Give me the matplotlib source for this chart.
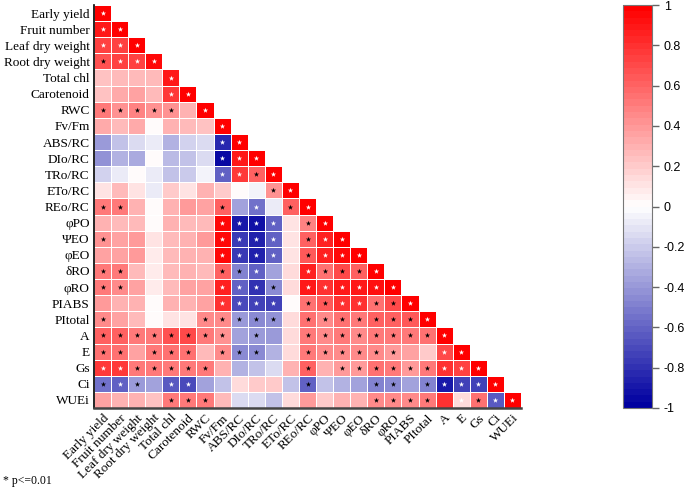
import numpy as np
import matplotlib.pyplot as plt
from matplotlib.colors import LinearSegmentedColormap

plt.rcParams['axes.unicode_minus'] = False

labels = ["Early yield", "Fruit number", "Leaf dry weight", "Root dry weight", "Total chl",
          "Carotenoid", "RWC", "Fv/Fm", "ABS/RC", "DIo/RC", "TRo/RC", "ETo/RC", "REo/RC",
          "φPO", "ΨEO", "φEO", "δRO", "φRO", "PIABS", "PItotal", "A", "E", "Gs", "Ci", "WUEi"]

# lower triangle of the correlation matrix, one list per row
rows = [
    [1.0],
    [0.88, 1.0],
    [0.72, 0.72, 1.0],
    [0.68, 0.72, 0.72, 0.95],
    [0.22, 0.25, 0.28, 0.25, 0.9],
    [0.22, 0.32, 0.35, 0.28, 0.78, 0.98],
    [0.5, 0.42, 0.48, 0.42, 0.42, 0.3, 0.98],
    [0.32, 0.28, 0.32, 0.0, 0.3, 0.28, 0.22, 0.98],
    [-0.4, -0.25, -0.15, -0.08, -0.3, -0.18, -0.15, -0.82, 0.98],
    [-0.42, -0.3, -0.32, 0.02, -0.28, -0.25, -0.15, -0.95, 0.88, 0.98],
    [-0.18, -0.08, 0.0, -0.08, -0.25, -0.2, -0.05, -0.62, 0.78, 0.62, 0.98],
    [0.12, 0.25, 0.12, -0.08, 0.2, 0.12, 0.3, 0.2, 0.03, -0.06, 0.42, 0.98],
    [0.5, 0.5, 0.3, 0.0, 0.3, 0.4, 0.35, 0.62, -0.35, -0.55, -0.08, 0.62, 0.98],
    [0.3, 0.25, 0.28, 0.0, 0.3, 0.28, 0.25, 0.95, -0.9, -0.92, -0.62, 0.1, 0.48, 0.98],
    [0.42, 0.35, 0.4, 0.12, 0.25, 0.3, 0.38, 0.95, -0.78, -0.85, -0.62, 0.1, 0.6, 0.85, 0.98],
    [0.35, 0.35, 0.38, 0.08, 0.25, 0.3, 0.3, 0.95, -0.78, -0.85, -0.62, 0.12, 0.65, 0.85, 0.95, 0.98],
    [0.5, 0.5, 0.25, 0.08, 0.25, 0.3, 0.25, 0.62, -0.48, -0.62, -0.35, 0.15, 0.85, 0.55, 0.7, 0.6, 0.98],
    [0.5, 0.45, 0.35, 0.08, 0.25, 0.35, 0.35, 0.85, -0.62, -0.8, -0.45, 0.15, 0.88, 0.8, 0.88, 0.88, 0.92, 0.98],
    [0.4, 0.3, 0.3, 0.03, 0.3, 0.3, 0.35, 0.8, -0.7, -0.72, -0.75, 0.02, 0.55, 0.65, 0.8, 0.8, 0.55, 0.7, 0.98],
    [0.45, 0.35, 0.25, 0.0, 0.12, 0.12, 0.45, 0.45, -0.4, -0.45, -0.42, 0.15, 0.55, 0.45, 0.55, 0.5, 0.6, 0.6, 0.65, 0.98],
    [0.6, 0.6, 0.5, 0.5, 0.68, 0.7, 0.5, 0.42, -0.35, -0.4, -0.38, 0.15, 0.5, 0.45, 0.5, 0.45, 0.5, 0.5, 0.5, 0.55, 0.98],
    [0.55, 0.55, 0.35, 0.5, 0.55, 0.55, 0.28, 0.45, -0.45, -0.45, -0.3, 0.15, 0.5, 0.45, 0.45, 0.45, 0.45, 0.4, 0.35, 0.2, 0.7, 0.98],
    [0.78, 0.75, 0.5, 0.5, 0.5, 0.5, 0.5, 0.3, -0.3, -0.25, -0.15, 0.3, 0.62, 0.3, 0.4, 0.4, 0.55, 0.5, 0.4, 0.5, 0.8, 0.72, 0.98],
    [-0.55, -0.6, -0.4, -0.35, -0.65, -0.7, -0.35, -0.25, 0.15, 0.2, 0.2, -0.22, -0.6, -0.25, -0.3, -0.35, -0.5, -0.45, -0.35, -0.5, -0.9, -0.75, -0.75, 0.98],
    [0.35, 0.3, 0.3, 0.22, 0.5, 0.5, 0.5, 0.25, -0.15, -0.15, -0.25, 0.15, 0.4, 0.2, 0.3, 0.3, 0.45, 0.45, 0.45, 0.5, 0.8, 0.15, 0.55, -0.65, 0.98],
]

# significance marks: w = white star, k = black star, . = none
stars = [
    "w",
    "ww",
    "www",
    "kwww",
    "....w",
    "....ww",
    "kkkkk.w",
    ".......w",
    ".......ww",
    ".......www",
    ".......wwkw",
    "..........kw",
    "kk.....k.w.kw",
    ".......wwww.kw",
    "k......wwww.kww",
    ".......wwww.kwww",
    "kk.....kkw..wkkkw",
    "kk.....wwwk.wwwwww",
    ".......wwww.kkwwkkw",
    "k.....kkkkk.kkkkkkkw",
    "kkkkkkkk.k..kkkkkkkkw",
    "kk.kkk.kkk..kkkkkk..ww",
    "wwkkkkk.....k.kkkkkkwww",
    "kwk.ww......k...kk.kwwww",
    "....kkk.........kkkk.wkww",
]

n = len(labels)
M = np.full((n, n), np.nan)
for i, r in enumerate(rows):
    M[i, :len(r)] = r
M = np.ma.masked_invalid(M)

fig = plt.figure(figsize=(6.85, 4.92), dpi=100)
ax = fig.add_axes([94/685, 1-408/492, 427/685, 403/492])

cmap = LinearSegmentedColormap.from_list('corr', ['#0000A0', '#FFFFFF', '#FF0000'], N=64)
mesh = ax.pcolormesh(np.arange(n+1), np.arange(n+1), M, cmap=cmap, vmin=-1, vmax=1,
                     edgecolors='#ffffff', linewidth=0.4)
ax.set_xlim(0, n)
ax.set_ylim(n, 0)

for col in ['white', 'black']:
    xs, ys = [], []
    for i, s in enumerate(stars):
        for j, c in enumerate(s):
            if (c == 'w' and col == 'white') or (c == 'k' and col == 'black'):
                xs.append(j + 0.5)
                ys.append(i + 0.5)
    ax.scatter(xs, ys, marker='*', s=16, color=col, linewidths=0, zorder=3)

ax.set_yticks(np.arange(n) + 0.5)
ax.set_yticklabels(labels, fontfamily='Liberation Serif', fontsize=9.5)
ax.set_xticks(np.arange(n) + 0.5)
ax.set_xticklabels(labels, fontfamily='Liberation Serif', fontsize=9.5, rotation=45,
                   ha='right', va='top', rotation_mode='anchor')
ax.tick_params(length=0, pad=3)
ax.spines['top'].set_visible(False)
ax.spines['right'].set_visible(False)
ax.spines['left'].set_linewidth(1.2)
ax.spines['bottom'].set_color('#444444')
ax.spines['bottom'].set_linewidth(1.8)

cax = fig.add_axes([623/685, 1-408/492, 29/685, 403/492])
cb = fig.colorbar(mesh, cax=cax, ticks=np.linspace(-1, 1, 11))
cb.ax.set_yticklabels(['-1', '-0.8', '-0.6', '-0.4', '-0.2', '0', '0.2', '0.4', '0.6', '0.8', '1'],
                      fontfamily='Liberation Sans', fontsize=9)
cb.ax.tick_params(color='#666666', length=5, width=1)
cb.outline.set_edgecolor('#777777')

fig.text(0.004, 1-484/492, '* p<=0.01', fontfamily='Liberation Serif', fontsize=8.5)

fig.savefig('out.png', dpi=100)
